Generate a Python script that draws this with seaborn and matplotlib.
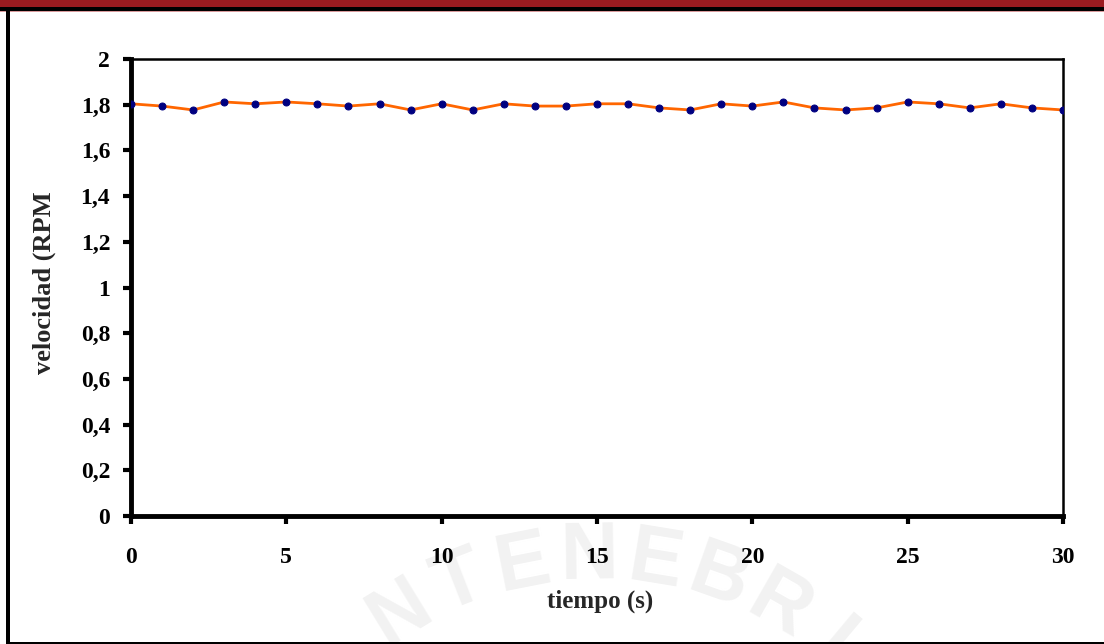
import numpy as np
import pandas as pd
import matplotlib
matplotlib.use("Agg")
import matplotlib.pyplot as plt
from matplotlib.patches import Rectangle
import seaborn as sns

tiempo = list(range(0, 31))
velocidad = [1.804, 1.794, 1.777, 1.812, 1.804, 1.812, 1.804, 1.794, 1.804, 1.777,
             1.804, 1.777, 1.804, 1.794, 1.794, 1.804, 1.804, 1.786, 1.777, 1.804,
             1.794, 1.812, 1.786, 1.777, 1.786, 1.812, 1.804, 1.786, 1.804, 1.786,
             1.777]
y_ticks = [0, 0.2, 0.4, 0.6, 0.8, 1.0, 1.2, 1.4, 1.6, 1.8, 2.0]
y_labels = ["0", "0,2", "0,4", "0,6", "0,8", "1", "1,2", "1,4", "1,6", "1,8", "2"]
x_ticks = [0, 5, 10, 15, 20, 25, 30]
watermark = "NTENEBRI"

df = pd.DataFrame({"tiempo": tiempo, "velocidad": velocidad})

sns.set_theme(style="white")
plt.rcParams['font.family'] = ['Liberation Serif', 'DejaVu Serif']

W, H = 1104, 644
fig = plt.figure(figsize=(W / 100, H / 100), dpi=100)
fig.patch.set_facecolor("white")

# faint watermark seal lettering along an arc (behind everything)
cx, cy, r = 595, 930, 372
for i, ch in enumerate(watermark):
    ang = np.deg2rad(-31.5 + 10.2 * i)
    px = cx + r * np.sin(ang)
    py = cy - r * np.cos(ang)
    fig.text(px / W, 1 - py / H, ch, rotation=-np.rad2deg(ang), rotation_mode="anchor",
             ha="center", va="center", fontsize=58, color="#F2F2F2",
             family="Liberation Sans", fontweight="bold", zorder=-5)

ax = fig.add_axes([131 / W, 1 - 516 / H, (1063 - 131) / W, (516 - 59) / H])
ax.set_facecolor("none")
ax.set_zorder(2)

sns.lineplot(data=df, x="tiempo", y="velocidad", ax=ax, color="#FF6600", linewidth=2,
             marker="o", markersize=5, markerfacecolor="#000080", markeredgecolor="#000080",
             zorder=3)

ax.set_xlim(0, 30)
ax.set_ylim(0, 2)
ax.set_xticks(x_ticks)
ax.set_xticklabels([str(t) for t in x_ticks])
ax.set_yticks(y_ticks)
ax.set_yticklabels(y_labels)
ax.tick_params(axis="both", direction="out", length=6, width=3, color="black",
               labelsize=17, labelcolor="black")
ax.tick_params(axis="x", pad=16, bottom=True)
ax.tick_params(axis="y", pad=9, left=True)
for lab in ax.get_xticklabels() + ax.get_yticklabels():
    lab.set_fontweight("bold")

for side in ["left", "bottom"]:
    ax.spines[side].set_linewidth(3.5)
    ax.spines[side].set_color("black")
for side in ["top", "right"]:
    ax.spines[side].set_linewidth(1.8)
    ax.spines[side].set_color("black")
    ax.spines[side].set_visible(True)

ax.set_xlabel("tiempo (s)", fontsize=18, fontweight="bold", va="center")
ax.xaxis.set_label_coords((600 - 131) / 932, (516 - 601) / 457)
ax.set_ylabel("velocidad (RPM", fontsize=19, fontweight="bold", va="center")
ax.yaxis.set_label_coords((44 - 131) / 932, (516 - 283) / 457)
ax.grid(False)

# frame decorations
fig.add_artist(Rectangle((0, 1 - 7 / H), 1, 7 / H, transform=fig.transFigure,
                         facecolor="#9B1B20", edgecolor="none"))
fig.add_artist(Rectangle((0, 1 - 10.5 / H), 1, 3.5 / H, transform=fig.transFigure,
                         facecolor="black", edgecolor="none"))
fig.add_artist(Rectangle((0, 1 - 12 / H), 1, 1.5 / H, transform=fig.transFigure,
                         facecolor="#D99A9C", edgecolor="none"))
fig.add_artist(Rectangle((6 / W, 0), 4 / W, 1 - 10 / H, transform=fig.transFigure,
                         facecolor="black", edgecolor="none"))
fig.add_artist(Rectangle((6 / W, 0), 1 - 6 / W, 2 / H, transform=fig.transFigure,
                         facecolor="black", edgecolor="none"))

fig.savefig("out.png", dpi=100)
